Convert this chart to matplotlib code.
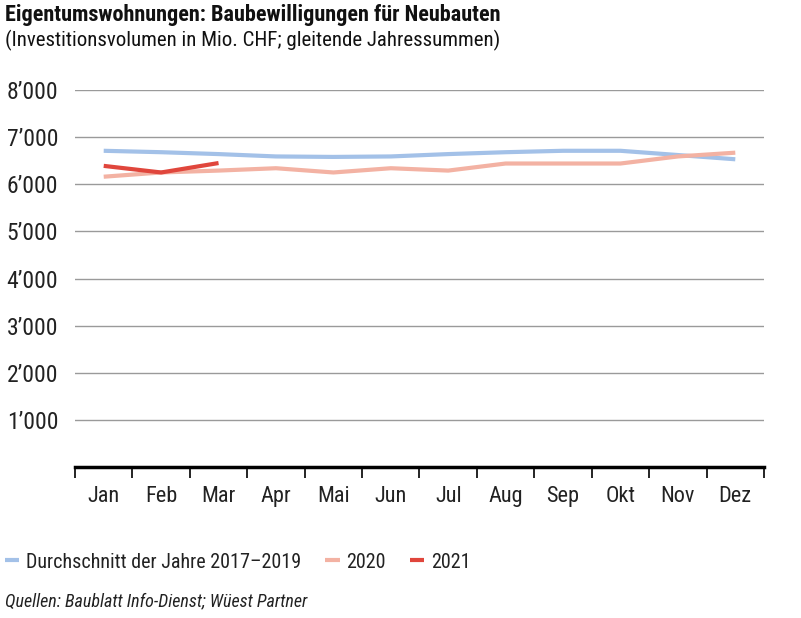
import numpy as np
import matplotlib.pyplot as plt
from matplotlib.ticker import FixedLocator, FuncFormatter

plt.rcParams['font.family'] = ['Roboto Condensed', 'DejaVu Sans']

months = ["Jan", "Feb", "Mar", "Apr", "Mai", "Jun", "Jul", "Aug", "Sep", "Okt", "Nov", "Dez"]
avg_2017_2019 = [6710, 6680, 6640, 6590, 6580, 6590, 6640, 6680, 6710, 6710, 6620, 6530]
y2020 = [6160, 6250, 6290, 6340, 6250, 6340, 6290, 6440, 6440, 6440, 6590, 6670]
y2021 = [6390, 6250, 6450]

c_avg = "#a3c1e8"
c_2020 = "#f3b2a3"
c_2021 = "#e0463c"

fig = plt.figure(figsize=(8.01, 6.18), dpi=100)
ax = fig.add_axes([75 / 801, 151 / 618, 689 / 801, 377 / 618])

x = np.arange(len(months))
ax.plot(x, avg_2017_2019, color=c_avg, lw=3, solid_capstyle="butt", label="Durchschnitt der Jahre 2017–2019")
ax.plot(x, y2020, color=c_2020, lw=3, solid_capstyle="butt", label="2020")
ax.plot(x[:len(y2021)], y2021, color=c_2021, lw=3, solid_capstyle="butt", label="2021")

ax.set_xlim(-0.5, 11.5)
ax.set_ylim(0, 8000)

# month labels centred, ticks at the boundaries
ax.xaxis.set_major_locator(FixedLocator(np.arange(-0.5, 12, 1)))
ax.xaxis.set_major_formatter(FuncFormatter(lambda v, p: ""))
ax.xaxis.set_minor_locator(FixedLocator(x))
ax.set_xticklabels(months, minor=True)
ax.tick_params(axis="x", which="major", length=8, width=1.2, color="black", direction="out")
ax.tick_params(axis="x", which="minor", length=0, pad=14, labelsize=16, labelcolor="#222222")

ax.set_yticks(np.arange(1000, 8001, 1000))
ax.set_yticklabels([f"{v // 1000}’000" for v in range(1000, 8001, 1000)])
ax.tick_params(axis="y", length=0, pad=12, labelsize=17, labelcolor="#222222")
ax.grid(axis="y", color="#9a9a9a", lw=1)
ax.set_axisbelow(True)

for s in ["top", "right", "left"]:
    ax.spines[s].set_visible(False)
ax.spines["bottom"].set_linewidth(2.5)
ax.spines["bottom"].set_color("black")

fig.text(5 / 801, 1 - 15 / 618, "Eigentumswohnungen: Baubewilligungen für Neubauten",
         fontsize=16, fontweight="bold", va="center", ha="left", color="#111111")
fig.text(5 / 801, 1 - 40 / 618, "(Investitionsvolumen in Mio. CHF; gleitende Jahressummen)",
         fontsize=15, va="center", ha="left", color="#111111")

leg = fig.legend(loc="center left", bbox_to_anchor=(5 / 801, 1 - 562 / 618), ncol=3, frameon=False,
                 fontsize=14.5, handlelength=0.7, handletextpad=0.35, columnspacing=1.2,
                 borderpad=0, borderaxespad=0)
for t in leg.get_texts():
    t.set_color("#222222")

fig.text(5 / 801, 1 - 601 / 618, "Quellen: Baublatt Info-Dienst; Wüest Partner",
         fontsize=13, style="italic", va="center", ha="left", color="#222222")

fig.savefig("out.png", dpi=100)
